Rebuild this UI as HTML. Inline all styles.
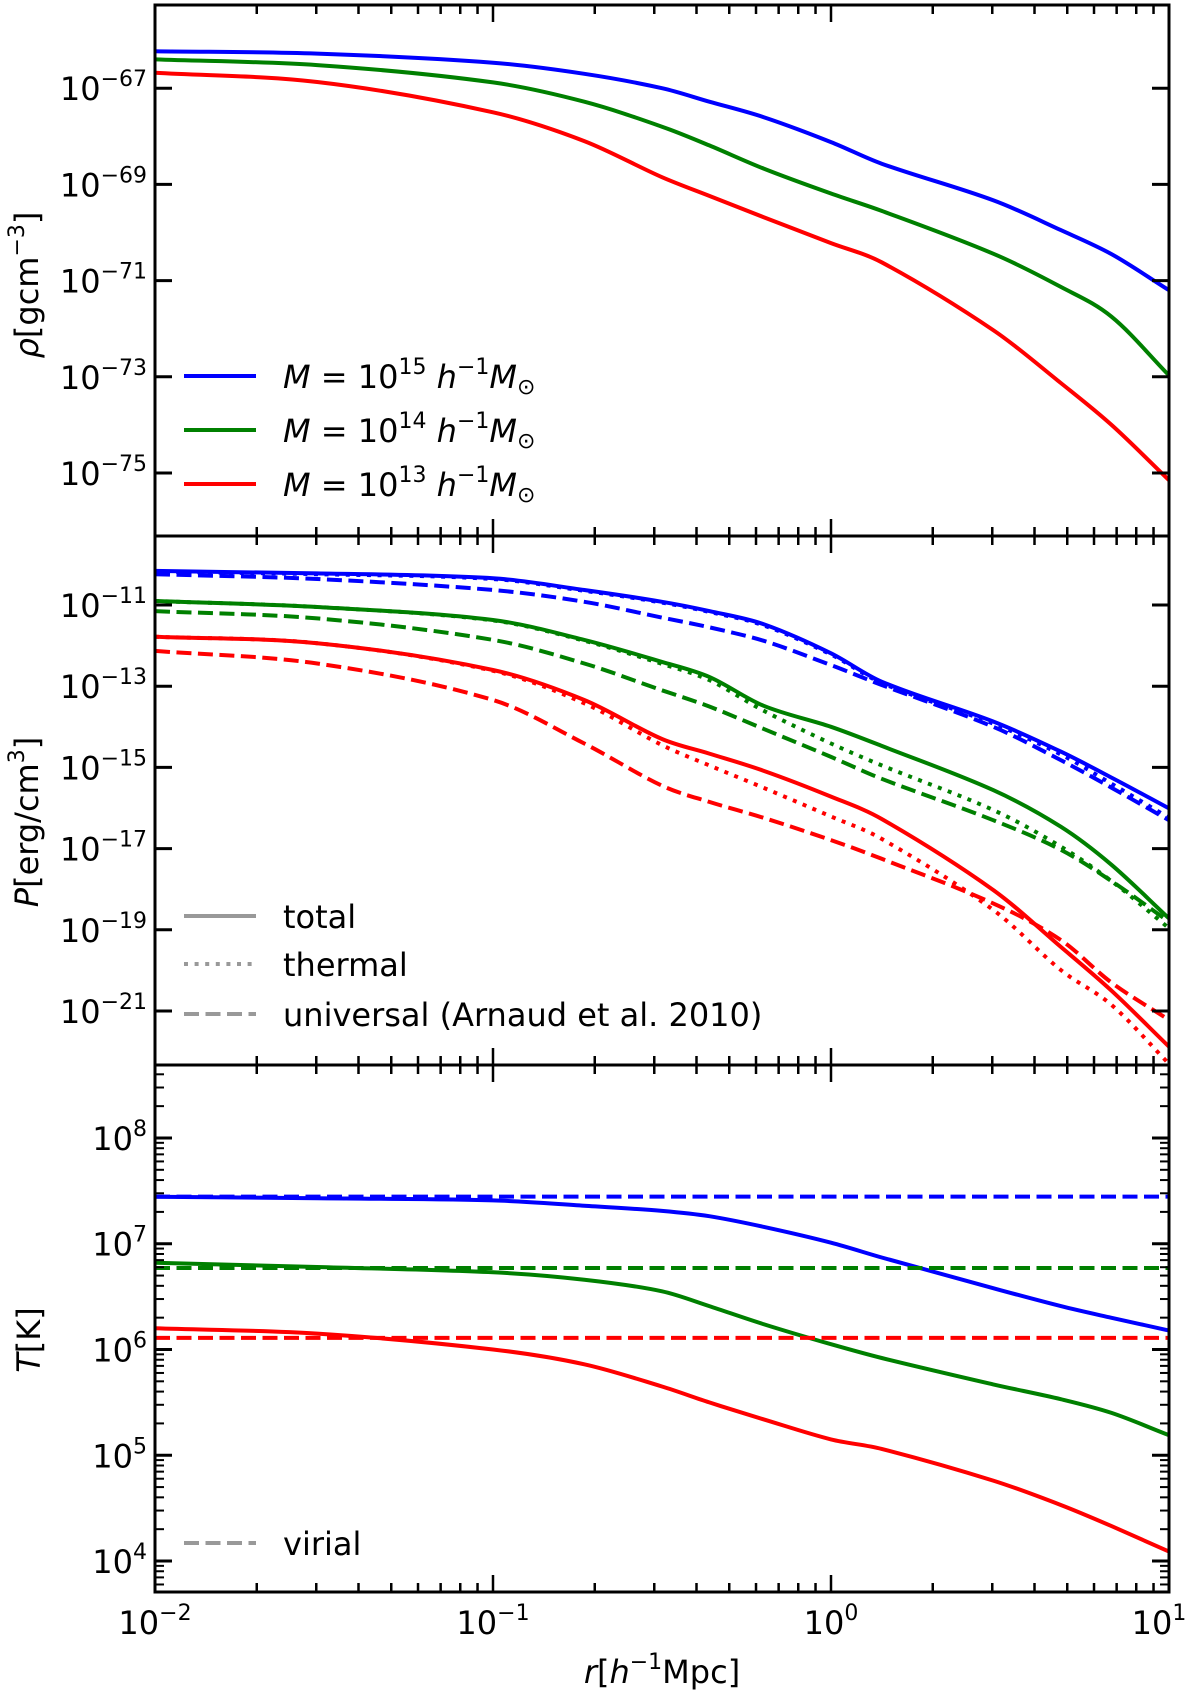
<!DOCTYPE html>
<html><head><meta charset="utf-8"><style>
html,body{margin:0;padding:0;background:#fff;}
svg{display:block;font-family:"DejaVu Sans","Liberation Sans",sans-serif;}
</style></head><body>
<svg id="chart" width="1200" height="1693" viewBox="0 0 1200 1693" xmlns="http://www.w3.org/2000/svg">
<defs>
<clipPath id="c0"><rect x="155" y="5" width="1014" height="531"/></clipPath>
<clipPath id="c1"><rect x="155" y="536" width="1014" height="529"/></clipPath>
<clipPath id="c2"><rect x="155" y="1065" width="1014" height="527"/></clipPath>
</defs>
<g id="layer"></g>
</svg>
<script>
// ---- data (log10 values) ----
const logR = [-2,-1.52,-1,-0.73,-0.5,-0.36,-0.2,0,0.15,0.48,0.68,0.83,1];
const logRhoBlue = [-66.23,-66.28,-66.47,-66.70,-67.00,-67.28,-67.60,-68.12,-68.57,-69.33,-69.95,-70.45,-71.20];
const logRhoGreen = [-66.40,-66.52,-66.88,-67.28,-67.80,-68.19,-68.67,-69.19,-69.55,-70.44,-71.13,-71.75,-72.97];
const logRhoRed = [-66.68,-66.87,-67.50,-68.10,-68.85,-69.24,-69.68,-70.22,-70.62,-72.03,-73.13,-74.00,-75.15];

const logPTotBlue = [-10.16,-10.22,-10.34,-10.63,-10.92,-11.15,-11.47,-12.19,-12.89,-13.87,-14.61,-15.25,-16.01];
const logPThBlue = [-10.18,-10.24,-10.36,-10.65,-10.94,-11.17,-11.50,-12.22,-12.92,-13.92,-14.68,-15.40,-16.24];
const logPUniBlue = [-10.24,-10.36,-10.63,-10.92,-11.31,-11.55,-11.88,-12.48,-12.97,-14.00,-14.82,-15.50,-16.30];
const logPTotGreen = [-10.90,-11.05,-11.37,-11.86,-12.40,-12.77,-13.48,-14.00,-14.47,-15.56,-16.46,-17.40,-18.72];
const logPThGreen = [-10.90,-11.05,-11.38,-11.88,-12.45,-12.85,-13.60,-14.41,-14.95,-16.05,-16.95,-17.80,-18.96];
const logPUniGreen = [-11.15,-11.33,-11.86,-12.44,-13.10,-13.50,-14.05,-14.74,-15.28,-16.30,-17.03,-17.80,-18.80];
const logPTotRed = [-11.78,-11.94,-12.60,-13.34,-14.30,-14.66,-15.08,-15.72,-16.27,-18.02,-19.42,-20.50,-21.88];
const logPThRed = [-11.78,-11.94,-12.62,-13.42,-14.45,-14.95,-15.50,-16.21,-16.76,-18.51,-19.99,-20.85,-22.30];
const logPUniRed = [-12.13,-12.44,-13.34,-14.41,-15.45,-15.85,-16.24,-16.79,-17.25,-18.35,-19.25,-20.30,-21.22];

const logTBlue = [7.445,7.43,7.41,7.36,7.31,7.26,7.16,7.01,6.87,6.58,6.41,6.30,6.18];
const logTGreen = [6.82,6.78,6.73,6.66,6.55,6.41,6.24,6.05,5.92,5.67,5.53,5.40,5.19];
const logTRed = [6.20,6.15,6.00,5.86,5.65,5.50,5.34,5.15,5.06,4.76,4.53,4.33,4.09];
const logTVirial = [7.445,6.77,6.11];

const rhoTicks = [-75,-73,-71,-69,-67];
const pTicks = [-21,-19,-17,-15,-13,-11];
const tTicks = [4,5,6,7,8];
const xTicks = [-2,-1,0,1];

// ---- axes ----
const X0=155, X1=1169;
const xs = v => X0 + (v+2)/3*(X1-X0);
const panels = [
  {top:5,bot:536,ymin:-76.31,ymax:-65.27,clip:'c0'},
  {top:536,bot:1065,ymin:-22.33,ymax:-9.30,clip:'c1'},
  {top:1065,bot:1592,ymin:3.707,ymax:8.69,clip:'c2'}
];
const ys = (p,v) => p.bot - (v-p.ymin)/(p.ymax-p.ymin)*(p.bot-p.top);
const NS='http://www.w3.org/2000/svg';
const layer=document.getElementById('layer');
function mk(tag,attrs,parent){const e=document.createElementNS(NS,tag);for(const k in attrs)e.setAttribute(k,attrs[k]);(parent||layer).appendChild(e);return e;}

function smoothPath(pts){
  const n=pts.length, s=[];
  for(let i=0;i<n;i++){
    const a=pts[Math.max(0,i-1)], b=pts[Math.min(n-1,i+1)];
    s.push((b[1]-a[1])/(b[0]-a[0]));
  }
  let d='M'+pts[0][0].toFixed(1)+','+pts[0][1].toFixed(1);
  for(let i=0;i<n-1;i++){
    const p1=pts[i],p2=pts[i+1],h=(p2[0]-p1[0])/3;
    d+='C'+(p1[0]+h).toFixed(1)+','+(p1[1]+s[i]*h).toFixed(1)+' '+(p2[0]-h).toFixed(1)+','+(p2[1]-s[i+1]*h).toFixed(1)+' '+p2[0].toFixed(1)+','+p2[1].toFixed(1);
  }
  return d;
}
const DASH='15 6.5', DOT='4 6.6';
function series(pi,vals,color,dash,name){
  const p=panels[pi];
  const pts=logR.map((r,i)=>[xs(r),ys(p,vals[i])]);
  const e=mk('path',{d:smoothPath(pts),fill:'none',stroke:color,'stroke-width':4,'clip-path':'url(#'+p.clip+')'});
  if(dash)e.setAttribute('stroke-dasharray',dash);
  
  
}
const BL='#0000ff',GR='#008000',RD='#ff0000';
series(0,logRhoBlue,BL,null,'rho-line-1e15');
series(0,logRhoGreen,GR,null,'rho-line-1e14');
series(0,logRhoRed,RD,null,'rho-line-1e13');
series(1,logPUniBlue,BL,DASH,'p-universal-1e15');
series(1,logPThBlue,BL,DOT,'p-thermal-1e15');
series(1,logPTotBlue,BL,null,'p-total-1e15');
series(1,logPUniGreen,GR,DASH,'p-universal-1e14');
series(1,logPThGreen,GR,DOT,'p-thermal-1e14');
series(1,logPTotGreen,GR,null,'p-total-1e14');
series(1,logPUniRed,RD,DASH,'p-universal-1e13');
series(1,logPThRed,RD,DOT,'p-thermal-1e13');
series(1,logPTotRed,RD,null,'p-total-1e13');
series(2,logTBlue,BL,null,'t-line-1e15');
series(2,logTGreen,GR,null,'t-line-1e14');
series(2,logTRed,RD,null,'t-line-1e13');
[BL,GR,RD].forEach((c,i)=>{
  const y=ys(panels[2],logTVirial[i]);
  const e=mk('line',{x1:X0,x2:X1,y1:y,y2:y,stroke:c,'stroke-width':4,'stroke-dasharray':DASH});
  
  
});

function tickLabel(x,y,exp,anchor,name){
  const e=mk('text',{x:x,y:y,'font-size':32,'text-anchor':anchor,fill:'#000'});
  const a=mk('tspan',{},e);a.textContent='10';
  const b=mk('tspan',{'font-size':22,dy:-14},e);b.textContent=String(exp).replace('-','\u2212');
  
  
}
panels.forEach((p,pi)=>{
  for(let d=-2;d<1;d++){for(let m=1;m<10;m++){
    const x=xs(d+Math.log10(m)); const L=m===1?17:9;
    if(m===1&&d===-2)continue;
    mk('line',{x1:x,x2:x,y1:p.bot,y2:p.bot-L,stroke:'#000','stroke-width':2.5});
    mk('line',{x1:x,x2:x,y1:p.top,y2:p.top+L,stroke:'#000','stroke-width':2.5});
  }}
  const ticks=pi===0?rhoTicks:pi===1?pTicks:tTicks;
  ticks.forEach(t=>{
    const y=ys(p,t);
    mk('line',{x1:X0,x2:X0+17,y1:y,y2:y,stroke:'#000','stroke-width':3});
    mk('line',{x1:X1,x2:X1-17,y1:y,y2:y,stroke:'#000','stroke-width':3});
    tickLabel(147,y+12,t,'end','y-tick-label');
  });
  if(pi===2){
    for(let d=3;d<9;d++){for(let m=2;m<10;m++){
      const v=d+Math.log10(m); if(v<p.ymin||v>p.ymax)continue; const y=ys(p,v);
      mk('line',{x1:X0,x2:X0+9,y1:y,y2:y,stroke:'#000','stroke-width':2});
      mk('line',{x1:X1,x2:X1-9,y1:y,y2:y,stroke:'#000','stroke-width':2});
    }}
  }
  const fr=mk('rect',{x:X0,y:p.top,width:X1-X0,height:p.bot-p.top,fill:'none',stroke:'#000','stroke-width':3});
  
  
});
xTicks.forEach(t=>tickLabel(xs(t)+(t===1?-10:0),1634,t,'middle','x-tick-label'));

function ylab(x,y,html,name){const e=mk('text',{x:0,y:0,'font-size':32,'text-anchor':'middle',transform:'translate('+x+','+y+') rotate(-90)'});e.innerHTML=html;}
ylab(38,285,'<tspan font-style="italic">ρ</tspan>[gcm<tspan font-size="22" dy="-14">−3</tspan><tspan dy="14">]</tspan>','y-axis-title-density');
ylab(38,822,'<tspan font-style="italic">P</tspan>[erg/cm<tspan font-size="22" dy="-14">3</tspan><tspan dy="14">]</tspan>','y-axis-title-pressure');
ylab(40,1340,'<tspan font-style="italic">T</tspan>[K]','y-axis-title-temperature');
const xl=mk('text',{x:662,y:1683,'font-size':32,'text-anchor':'middle'});
xl.innerHTML='<tspan font-style="italic">r</tspan>[<tspan font-style="italic">h</tspan><tspan font-size="22" dy="-14">−1</tspan><tspan dy="14">Mpc]</tspan>';



function legLine(y,color,dash,label,name){
  const l=mk('line',{x1:184,x2:256,y1:y,y2:y,stroke:color,'stroke-width':4});
  if(dash)l.setAttribute('stroke-dasharray',dash);
  const t=mk('text',{x:283,y:y+12,'font-size':32});t.innerHTML=label;
  
  
  
  
}
const mlab=e=>'<tspan font-style="italic">M</tspan> = 10<tspan font-size="22" dy="-14">'+e+'</tspan><tspan dy="14"> </tspan><tspan font-style="italic">h</tspan><tspan font-size="22" dy="-14">−1</tspan><tspan dy="14" font-style="italic">M</tspan><tspan font-size="22" dy="6">⊙</tspan>';
legLine(376,BL,null,mlab(15),'legend-1e15');
legLine(430,GR,null,mlab(14),'legend-1e14');
legLine(484,RD,null,mlab(13),'legend-1e13');
legLine(916,'#999',null,'total','legend-total');
legLine(964,'#999',DOT,'thermal','legend-thermal');
legLine(1014,'#999',DASH,'universal (Arnaud et al. 2010)','legend-universal');
legLine(1543,'#999',DASH,'virial','legend-virial');
</script>
</body></html>
